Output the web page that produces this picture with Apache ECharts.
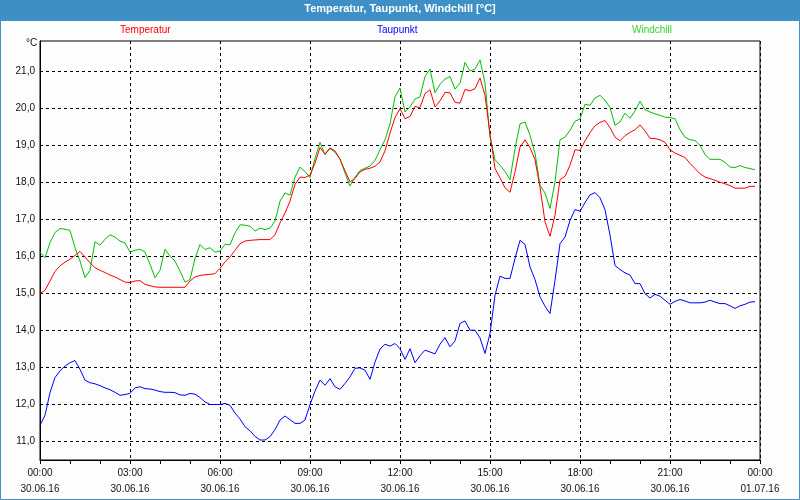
<!DOCTYPE html>
<html>
<head>
<meta charset="utf-8">
<script src="https://cdn.jsdelivr.net/npm/echarts@6/dist/echarts.min.js"></script>
<style>html,body{margin:0;padding:0;background:#fcfdfc;}#c{width:800px;height:500px;}</style>
</head>
<body>
<div id="c"></div>
<script>
// 10-minute readings from 30.06.16 00:00 to 23:50
const stepMinutes = 10;
const temperatur = [
15.00,15.09,15.34,15.60,15.75,15.85,15.93,16.03,16.14,15.99,15.83,15.70,15.63,15.57,15.50,15.45,15.38,15.31,15.30,15.34,15.35,15.25,15.21,15.18,15.17,15.17,15.17,15.17,15.17,15.17,15.34,15.45,15.49,15.51,15.52,15.54,15.68,
15.86,15.99,16.17,16.35,16.42,16.44,16.45,16.46,16.46,16.46,16.59,16.91,17.18,17.50,17.95,18.15,18.14,18.20,18.53,18.95,18.77,18.94,18.86,18.63,18.32,18.02,18.11,18.29,18.36,18.39,18.44,18.56,18.86,19.34,19.76,20.00,
19.73,19.79,20.06,20.03,20.41,20.51,20.05,20.21,20.44,20.43,20.17,20.15,20.52,20.48,20.54,20.83,20.36,19.32,18.38,18.13,17.86,17.74,18.29,18.96,19.16,18.95,18.62,17.88,16.94,16.55,17.12,18.08,18.17,18.47,18.89,18.87,
19.13,19.35,19.54,19.63,19.68,19.49,19.23,19.13,19.27,19.36,19.43,19.56,19.40,19.20,19.19,19.16,19.09,18.89,18.80,18.74,18.68,18.52,18.38,18.24,18.15,18.11,18.06,18.01,17.97,17.92,17.85,17.85,17.85,17.90,17.90
];
const taupunkt = [
11.44,11.71,12.32,12.73,12.91,13.04,13.13,13.19,12.95,12.66,12.59,12.56,12.51,12.45,12.40,12.33,12.25,12.27,12.30,12.45,12.48,12.43,12.42,12.39,12.35,12.33,12.33,12.32,12.26,12.25,12.30,12.28,12.19,12.07,12.00,12.00,12.00,
12.03,11.98,11.77,11.61,11.40,11.29,11.14,11.04,11.04,11.13,11.32,11.58,11.69,11.59,11.49,11.49,11.58,12.00,12.36,12.66,12.52,12.70,12.48,12.41,12.57,12.75,12.98,12.99,12.93,12.68,13.15,13.50,13.63,13.58,13.65,13.51,
13.22,13.51,13.13,13.32,13.47,13.42,13.37,13.63,13.81,13.56,13.72,14.19,14.26,14.01,14.01,13.80,13.38,13.92,14.95,15.47,15.41,15.41,15.95,16.44,16.33,15.72,15.38,14.91,14.66,14.46,15.36,16.35,16.53,16.98,17.27,17.23,
17.46,17.67,17.73,17.59,17.27,16.58,15.76,15.65,15.56,15.50,15.27,15.27,15.00,14.88,14.98,14.93,14.82,14.71,14.79,14.84,14.80,14.75,14.75,14.75,14.77,14.82,14.77,14.73,14.73,14.67,14.60,14.67,14.71,14.77,14.78
];
const windchill = [
16.12,15.97,16.38,16.65,16.76,16.74,16.71,16.24,15.88,15.43,15.63,16.40,16.31,16.47,16.59,16.53,16.42,16.37,16.12,16.17,16.20,16.12,15.79,15.43,15.63,16.20,16.01,15.88,15.61,15.31,15.38,15.95,16.33,16.19,16.24,16.12,16.15,
16.33,16.32,16.64,16.86,16.85,16.82,16.69,16.77,16.73,16.77,16.96,17.50,17.72,17.66,18.15,18.42,18.30,18.14,18.65,19.09,18.76,18.92,18.82,18.64,18.26,17.91,18.15,18.33,18.39,18.45,18.60,18.89,19.16,19.59,20.32,20.56,
19.91,20.05,20.26,20.32,20.87,21.07,20.43,20.66,20.80,20.87,20.53,20.69,21.25,21.02,21.07,21.32,20.69,19.23,18.62,18.47,18.30,18.08,18.92,19.59,19.64,19.28,18.80,17.93,17.72,17.30,18.02,19.16,19.23,19.41,19.66,19.72,
20.12,20.09,20.29,20.36,20.23,20.03,19.55,19.64,19.88,19.74,19.94,20.20,19.97,19.91,19.86,19.82,19.77,19.76,19.73,19.43,19.23,19.16,19.14,19.01,18.76,18.63,18.63,18.63,18.55,18.42,18.41,18.46,18.41,18.38,18.35
];
const yTickValues = [11,12,13,14,15,16,17,18,19,20,21];
const xTickHours = [0,3,6,9,12,15,18,21,24];
const xTickTimes = ['00:00','03:00','06:00','09:00','12:00','15:00','18:00','21:00','00:00'];
const xTickDates = ['30.06.16','30.06.16','30.06.16','30.06.16','30.06.16','30.06.16','30.06.16','30.06.16','01.07.16'];
const seriesNames = ['Temperatur','Taupunkt','Windchill'];
const titleText = 'Temperatur, Taupunkt, Windchill [°C]';

const toPairs = arr => arr.map((v, i) => [i * stepMinutes / 60, v]);
const FONT = 'Liberation Sans';
const chart = echarts.init(document.getElementById('c'), null, {renderer: 'canvas'});
const legendBase = {icon: 'none', itemWidth: 0, itemHeight: 0, itemGap: 0, padding: 0, top: 25, selectedMode: false,
  textStyle: {fontFamily: FONT, fontSize: 10, padding: 0}};
chart.setOption({
  backgroundColor: '#fcfdfc',
  animation: false,
  title: {text: titleText, left: 'center', top: 3, padding: 0,
    textStyle: {color: '#ffffff', fontFamily: FONT, fontSize: 11, fontWeight: 'bold'}},
  legend: [
    Object.assign({}, legendBase, {data: [seriesNames[0]], left: 115, textStyle: Object.assign({}, legendBase.textStyle, {color: '#ff0000'})}),
    Object.assign({}, legendBase, {data: [seriesNames[1]], left: 372, textStyle: Object.assign({}, legendBase.textStyle, {color: '#0000ff'})}),
    Object.assign({}, legendBase, {data: [seriesNames[2]], left: 627, textStyle: Object.assign({}, legendBase.textStyle, {color: '#33d633'})})
  ],
  grid: {left: 40, right: 40, top: 41, bottom: 40, show: true, borderColor: '#000', borderWidth: 1, backgroundColor: 'transparent'},
  xAxis: {
    type: 'value', min: 0, max: 24, interval: 3,
    axisLine: {lineStyle: {color: '#000', width: 1}},
    axisTick: {show: true, length: 4, lineStyle: {color: '#000'}},
    minorTick: {show: true, splitNumber: 3, length: 4, lineStyle: {color: '#000'}},
    splitLine: {show: true, lineStyle: {color: '#000', type: [3, 3], width: 1}},
    axisLabel: {
      margin: 5, color: '#111', fontFamily: FONT, fontSize: 10, lineHeight: 16,
      formatter: v => { const k = xTickHours.indexOf(v); return k < 0 ? '' : xTickTimes[k] + '\n' + xTickDates[k]; }
    }
  },
  yAxis: {
    type: 'value', min: 10.5, max: 21.83,
    axisLine: {show: true, lineStyle: {color: '#000', width: 1}},
    axisTick: {show: false, customValues: yTickValues},
    splitLine: {show: true, lineStyle: {color: '#000', type: [3, 3], width: 1}},
    axisLabel: {customValues: yTickValues, margin: 5, color: '#111', fontFamily: FONT, fontSize: 10,
      formatter: v => v.toFixed(1).replace('.', ',')}
  },
  graphic: [
    {type: 'rect', z: -1, shape: {x: 0, y: 0, width: 800, height: 21}, style: {fill: '#3d8fc6'}, silent: true},
    {type: 'rect', z: 100, shape: {x: 0.5, y: 0.5, width: 799, height: 499}, style: {fill: 'none', stroke: '#3d8fc6', lineWidth: 1}, silent: true},
    {type: 'text', left: 26, top: 38, style: {text: '°C', fill: '#111', font: '10px ' + FONT}, silent: true}
  ],
  series: [
    {name: seriesNames[0], type: 'line', data: toPairs(temperatur), showSymbol: false, symbol: 'none', lineStyle: {color: '#ff0000', width: 1}, itemStyle: {color: '#ff0000'}, z: 3},
    {name: seriesNames[1], type: 'line', data: toPairs(taupunkt), showSymbol: false, symbol: 'none', lineStyle: {color: '#0000ff', width: 1}, itemStyle: {color: '#0000ff'}, z: 3},
    {name: seriesNames[2], type: 'line', data: toPairs(windchill), showSymbol: false, symbol: 'none', lineStyle: {color: '#00c000', width: 1}, itemStyle: {color: '#00c000'}, z: 2}
  ]
});
</script>
</body>
</html>
